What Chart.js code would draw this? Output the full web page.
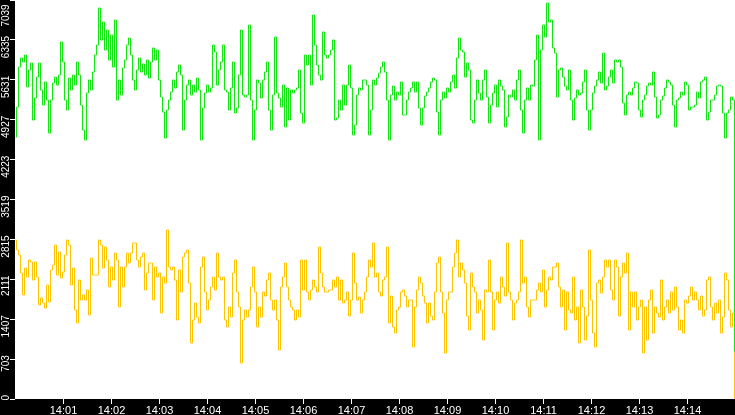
<!DOCTYPE html>
<html>
<head>
<meta charset="utf-8">
<script src="https://cdn.jsdelivr.net/npm/chart.js"></script>
<style>
  html, body { margin: 0; padding: 0; background: #fff; }
  #wrap { width: 735px; height: 415px; position: relative; }
</style>
</head>
<body>
<div id="wrap"><canvas id="myChart"></canvas></div>
<script>
// one sample every 2.5 s, first one at 14:00:00
var sampleStep = 2.5;

var greenValues = [
  4620, 5150, 5856, 6015, 5945, 6068, 5504, 5804, 5927, 4922,
  5310, 5680, 5927, 5451, 5186, 5592, 5274, 4692, 5274, 5574,
  5680, 5539, 5715, 6298, 5945, 5274, 5098, 5662, 5451, 5715,
  5539, 5945, 5715, 5186, 4745, 4569, 5398, 5627, 5451, 5768,
  6068, 6245, 6897, 6333, 6650, 6156, 6509, 5980, 6421, 5856,
  6686, 5274, 5627, 5362, 5839, 5980, 6245, 6368, 6068, 5627,
  5451, 5804, 6015, 5768, 5910, 5715, 5980, 5662, 5945, 6192,
  5980, 6156, 5627, 5327, 5063, 4604, 5098, 5274, 5415, 5627,
  5486, 5768, 5892, 5715, 4745, 5274, 5539, 5627, 5362, 5539,
  5415, 5662, 5451,
  4569, 5133, 5398, 5539, 5415, 5486, 6245,
  6121, 5539, 5804, 5945, 6245, 5451, 5415, 5098, 5486, 5945,
  5045, 5133, 5715, 6509, 5362, 5327, 5362, 6598, 5274, 4569,
  5098, 5627, 5574, 5310, 5627, 5768, 5945, 5098, 4745, 5362,
  6386, 5398, 5310, 5151, 5539, 4798, 5486, 4922, 5451, 5398,
  5451, 5486, 5804, 5045, 4869, 6068, 5892, 6068, 5539, 6774,
  6245, 5892, 5715, 5627, 6474, 6068, 6015, 6068,
  6156, 6333,
  4922, 4957, 5274, 5098, 5539, 5186, 5539, 5892, 5486, 4657,
  4833, 5362, 5486, 5451, 5627, 5627, 5539, 4657, 5098, 5627,
  5539, 5662, 5750, 5856, 5945, 5768, 5274, 4569, 5362, 5521,
  5274, 5415, 5362, 5592, 5010, 5010, 5274, 5415, 5486, 5592,
  5415, 5592, 5133, 4833, 5133, 5345, 5415, 5486, 5592, 5662,
  5627, 5063, 4657, 5274, 5415, 5310, 5486, 5415, 5592, 5715,
  5486, 6015, 6368, 6156, 6121,
  5680, 5927, 5804, 4922, 4869,
  5274, 5627, 5398, 5274, 5627, 5804, 5327, 4869, 5186, 5398,
  5539, 5151, 5627, 5521, 5451, 4798, 4975, 5362, 5327, 5451,
  5274, 5627, 5804, 5098, 4692, 5274, 5486, 5274, 5539, 5521,
  5980, 6421, 4569, 6156, 6598, 6386, 6986, 6650, 6686, 6192,
  6103, 5327, 5804, 5839, 5680, 5521, 5451, 5804, 5274, 4922,
  5310, 5451, 5362, 5398, 5592, 5804, 5098, 4745, 5098, 5398,
  5521, 5627, 5768,
  5574, 6103, 5451, 5521, 5680, 5804, 5574,
  5980, 5945, 5980, 5856, 5221, 5010, 5362, 5415, 5362, 5486,
  5592, 5574, 5098, 4975, 5274, 5362, 5521, 5574, 5539, 5768,
  5327, 4957, 5010, 5274, 5345, 5486, 5627, 5592, 5539, 5186,
  4798, 5274, 5310, 5415, 5362, 5592, 5539, 5098, 5151, 5151,
  5186, 5415, 5310, 5592, 5627, 5680, 4922, 5063, 5274, 5274,
  5362, 5521, 5539, 5521, 5045, 4604, 5045, 5098, 5327, 5274,
  840
];

var yellowValues = [
  2805, 2628, 2540, 2223, 1835, 2311, 2152, 2452, 2417, 2099,
  2417, 2152, 1658, 1782, 1693, 1605, 2011, 1711, 2276, 2364,
  2716, 2187, 2593, 2134, 2240, 2540, 2805, 2716, 2011, 2311,
  1570, 1341, 2099, 1746, 1835, 1746, 1923, 1482, 2487, 2187,
  2187, 2187, 2805, 2716, 2311, 2681, 2452, 1976, 2328, 2099,
  2575, 2452, 1623, 2328, 1976, 2328, 2575, 2399, 2575, 2752,
  2752, 2452, 2328, 2505, 2575, 1923, 2223, 2399, 2399, 1746,
  2328, 2152, 2223, 1517, 2152, 2046, 2981, 2328, 2276, 2328,
  2099, 1394, 2276, 1888, 2505, 2575, 2628, 2046, 988, 1394,
  1693, 1446, 1341,
  2328, 2505, 1888, 1570, 1746, 1976, 2152,
  1923, 2575, 2152, 2099, 2152, 1394, 1270, 1623, 1446, 2223,
  2452, 1888, 1623, 635, 1394, 1570, 1446, 1570, 1976, 2328,
  1888, 1270, 1623, 1446, 1888, 1817, 2099, 2223, 1746, 1570,
  1746, 1394, 864, 1976, 2152, 2399, 1976, 1746, 1623, 1570,
  1394, 1570, 1446, 2452, 1923, 2452, 1888, 1746, 1923, 2099,
  1976, 1888, 2681, 2223, 1976, 1888, 1888, 1923,
  1923, 2099,
  1976, 2152, 1746, 2099, 1693, 1746, 1888, 1464, 1746, 2575,
  2046, 1746, 1799, 1517, 1746, 1888, 2152, 2452, 2328, 2752,
  2152, 2223, 1888, 1817, 2099, 2152, 2681, 1341, 1817, 1270,
  1164, 1570, 1623, 1888, 1923, 1817, 1623, 1746, 1746, 917,
  1623, 1923, 2152, 2046, 1817, 1693, 1341, 1693, 1464, 1394,
  1888, 2399, 2505, 1888, 1517, 811, 1746, 1888, 1888, 2328,
  2575, 2805, 2152, 2399, 2276,
  2046, 1464, 1217, 2223, 1976,
  1888, 1517, 1746, 1570, 1041, 1923, 1888, 2452, 1888, 1217,
  1746, 1888, 1693, 2152, 1976, 1817, 2752, 1888, 1746, 1394,
  1693, 1746, 1888, 2805, 2046, 2152, 1623, 1446, 1746, 1746,
  1746, 1923, 2046, 1888, 2276, 1623, 1923, 2152, 2099, 2328,
  2328, 2399, 1976, 1623, 1923, 1217, 1888, 1570, 1517, 2152,
  1394, 1623, 988, 1923, 1623, 1041, 1464, 2628, 1746, 1164,
  917, 2046, 2099,
  1870, 2152, 2452, 2328, 2452, 1923, 1746,
  2452, 2328, 1464, 2152, 2399, 2223, 2575, 1217, 1888, 1623,
  1888, 1394, 1623, 1746, 811, 1623, 1041, 1746, 1923, 1164,
  1623, 1517, 1446, 2099, 1394, 1623, 1746, 1517, 1888, 1570,
  1976, 1623, 1217, 1394, 1164, 1746, 1693, 1817, 1976, 1746,
  1888, 1746, 1570, 1817, 1464, 1570, 2099, 2152, 1623, 1394,
  1693, 1517, 1746, 1164, 1446, 2223, 2099, 1570, 1270, 1517,
  0
];

// seconds after 14:00:00
var timeTicks = [60, 120, 180, 240, 300, 360, 420, 480, 540, 600, 660, 720, 780, 840];
var timeLabels = ['14:01', '14:02', '14:03', '14:04', '14:05', '14:06', '14:07',
                  '14:08', '14:09', '14:10', '14:11', '14:12', '14:13', '14:14'];
var valueTicks = [0, 703, 1407, 2111, 2815, 3519, 4223, 4927, 5631, 6335, 7039];

function toPoints(values) {
  return values.map(function (v, i) {
    return { x: i * sampleStep, y: v };
  });
}

// white plot, black strips behind the axes
var axisBackground = {
  id: 'axisBackground',
  beforeDraw: function (chart) {
    var ctx = chart.ctx;
    var area = chart.chartArea;
    ctx.save();
    ctx.fillStyle = '#ffffff';
    ctx.fillRect(0, 0, chart.width, chart.height);
    ctx.fillStyle = '#000000';
    ctx.fillRect(0, 0, area.left, chart.height);
    ctx.fillRect(0, area.bottom, chart.width, chart.height - area.bottom);
    ctx.restore();
  }
};

var ctx = document.getElementById('myChart').getContext('2d');
var myChart = new Chart(ctx, {
  type: 'line',
  data: {
    datasets: [
      {
        label: 'green',
        data: toPoints(greenValues),
        borderColor: '#14e614',
        borderWidth: 1,
        stepped: 'middle',
        pointRadius: 0,
        fill: false
      },
      {
        label: 'yellow',
        data: toPoints(yellowValues),
        borderColor: '#ffc400',
        borderWidth: 1,
        stepped: 'middle',
        pointRadius: 0,
        fill: false
      }
    ]
  },
  plugins: [axisBackground],
  options: {
    responsive: true,
    maintainAspectRatio: false,
    animation: false,
    devicePixelRatio: 1,
    layout: { padding: 0 },
    plugins: {
      legend: { display: false },
      tooltip: { enabled: false }
    },
    scales: {
      x: {
        type: 'linear',
        // half a pixel of shift keeps the vertical steps sharp
        min: -0.625,
        max: 899.375,
        afterBuildTicks: function (scale) {
          scale.ticks = timeTicks.map(function (v) { return { value: v }; });
        },
        afterFit: function (scale) {
          scale.height = 16;
          scale.paddingLeft = 0;
          scale.paddingRight = 0;
        },
        border: { display: false },
        grid: { drawOnChartArea: false, color: '#ffffff', tickLength: 5 },
        ticks: {
          color: '#ffffff',
          font: { family: 'Liberation Sans', size: 11 },
          padding: 0,
          autoSkip: false,
          maxRotation: 0,
          callback: function (value, index) {
            return timeLabels[index];
          }
        }
      },
      y: {
        type: 'linear',
        min: 0,
        max: 7039,
        afterBuildTicks: function (scale) {
          scale.ticks = valueTicks.map(function (v) { return { value: v }; });
        },
        afterFit: function (scale) {
          scale.width = 15;
          scale.paddingTop = 0;
          scale.paddingBottom = 0;
        },
        border: { display: false },
        grid: { drawOnChartArea: false, color: '#ffffff', tickLength: 5 },
        ticks: {
          color: '#ffffff',
          font: { family: 'Liberation Sans', size: 10 },
          padding: 4,
          labelOffset: -4,
          autoSkip: false,
          minRotation: 90,
          maxRotation: 90,
          callback: function (value, index) {
            // trailing spaces push the top label down inside the canvas
            return index === valueTicks.length - 1 ? String(value) + '   ' : String(value);
          }
        }
      }
    }
  }
});
</script>
</body>
</html>
